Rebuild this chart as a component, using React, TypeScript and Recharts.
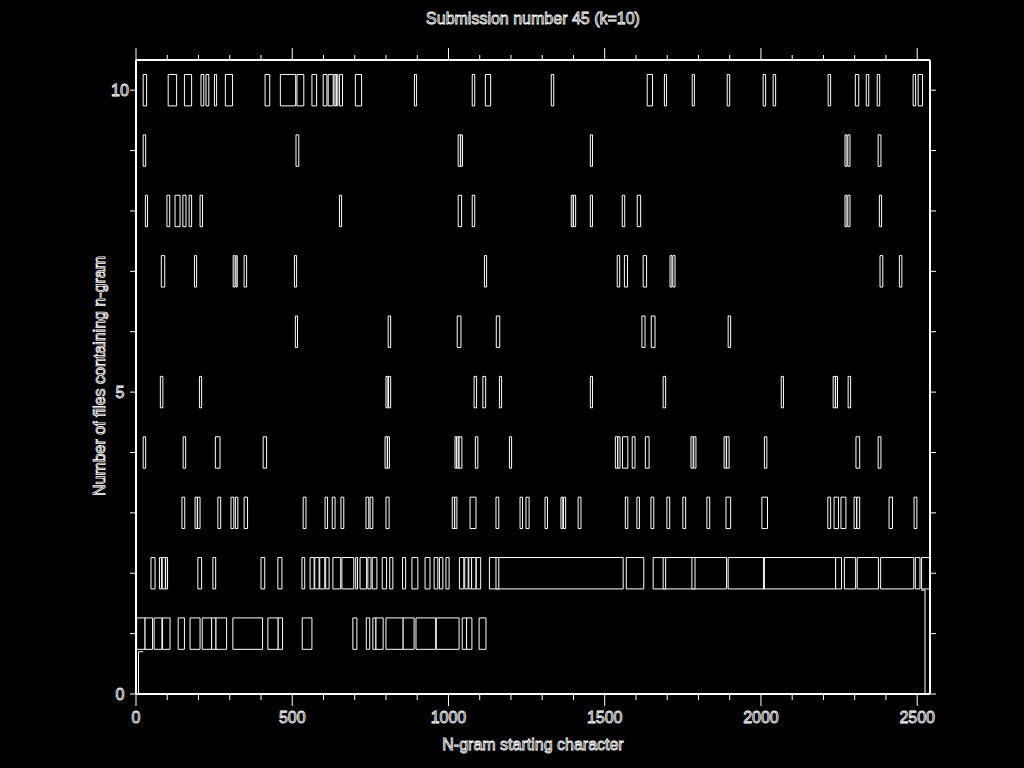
import { ComposedChart, XAxis, YAxis, ReferenceArea, ReferenceLine } from 'recharts'

// bars per row: [start, end] in characters
const row1: [number, number][] = [
  [2, 29], [29, 53], [58, 83], [85, 109], [135, 155], [173, 205], [212, 242], [242, 256],
  [256, 290], [310, 405], [422, 455], [455, 469], [532, 563], [694, 707], [737, 748],
  [758, 768], [768, 791], [800, 855], [855, 890], [896, 959], [961, 1034], [1044, 1058],
  [1058, 1075], [1098, 1120],
]
const row2: [number, number][] = [
  [48, 61], [75, 82], [84, 94], [95, 101], [198, 210], [246, 255], [400, 412], [454, 467],
  [531, 540], [557, 570], [572, 586], [588, 604], [607, 618], [630, 655], [659, 697],
  [703, 709], [717, 738], [742, 752], [756, 771], [788, 802], [812, 822], [853, 863],
  [883, 902], [925, 941], [954, 966], [971, 982], [992, 1002], [1035, 1049], [1052, 1063],
  [1065, 1074], [1074, 1088], [1089, 1103], [1131, 1559], [1569, 1625], [1655, 1890],
  [1895, 2239], [2239, 2258], [2267, 2303], [2308, 2376], [2383, 2489], [2494, 2509],
  [2514, 2541], [1152, 1161], [1687, 1695], [1779, 1789], [2008, 2011],
]
const row3: [number, number][] = [
  [147, 156], [189, 196], [197, 205], [262, 271], [304, 313], [318, 326], [346, 357],
  [535, 544], [605, 613], [628, 637], [656, 665], [736, 745], [749, 758], [800, 810],
  [1012, 1019], [1020, 1027], [1069, 1088], [1152, 1161], [1229, 1237], [1248, 1258],
  [1309, 1317], [1360, 1366], [1368, 1375], [1415, 1424], [1566, 1574], [1603, 1611],
  [1648, 1657], [1699, 1708], [1750, 1759], [1827, 1836], [1888, 1903], [2003, 2021],
  [2214, 2223], [2234, 2248], [2256, 2272], [2298, 2306], [2307, 2316], [2410, 2421],
  [2490, 2499],
]
const row4: [number, number][] = [
  [23, 31], [151, 159], [254, 269], [407, 418], [797, 804], [805, 811], [1021, 1026],
  [1027, 1033], [1034, 1043], [1086, 1094], [1195, 1202], [1534, 1541], [1542, 1549],
  [1557, 1574], [1588, 1597], [1630, 1642], [1776, 1783], [1785, 1792], [1882, 1889],
  [1890, 1898], [2011, 2019], [2304, 2316], [2375, 2384],
]
const row5: [number, number][] = [
  [78, 86], [203, 210], [800, 806], [808, 815], [1082, 1090], [1110, 1119], [1163, 1170],
  [1454, 1461], [1687, 1695], [2065, 2072], [2231, 2238], [2239, 2245], [2279, 2287],
]
const row6: [number, number][] = [
  [510, 517], [807, 815], [1028, 1040], [1153, 1164], [1619, 1629], [1649, 1661], [1895, 1903],
]
const row7: [number, number][] = [
  [81, 92], [187, 194], [311, 317], [320, 324], [346, 354], [507, 514], [1115, 1122],
  [1540, 1548], [1563, 1573], [1623, 1634], [1709, 1715], [1718, 1725], [2381, 2390],
  [2443, 2451],
]
const row8: [number, number][] = [
  [30, 37], [99, 108], [125, 141], [150, 160], [170, 178], [205, 213], [651, 658],
  [1031, 1042], [1076, 1084], [1393, 1399], [1400, 1407], [1454, 1461], [1556, 1564],
  [1604, 1615], [2269, 2275], [2278, 2285], [2379, 2386],
]
const row9: [number, number][] = [
  [23, 31], [512, 521], [1031, 1038], [1039, 1045], [1454, 1461], [2269, 2275],
  [2278, 2285], [2375, 2384],
]
const row10: [number, number][] = [
  [23, 34], [103, 130], [155, 178], [208, 217], [224, 233], [251, 258], [286, 309],
  [413, 428], [462, 511], [515, 537], [563, 578], [599, 611], [615, 631], [634, 640],
  [642, 646], [651, 661], [702, 722], [891, 898], [1076, 1084], [1118, 1135], [1329, 1337],
  [1636, 1653], [1691, 1698], [1780, 1787], [1892, 1900], [2007, 2015], [2039, 2047],
  [2215, 2223], [2302, 2313], [2337, 2345], [2372, 2380], [2487, 2495], [2503, 2517],
]

const rows = [row1, row2, row3, row4, row5, row6, row7, row8, row9, row10]

// stray edge lines near the bottom corners: [x1, y1, x2, y2]
const edgeLines: [number, number, number, number][] = [
  [8, 0.7, 8, 0],
  [8, 0.7, 23, 0.7],
  [2525, 1.72, 2525, 0],
  [2512, 1.72, 2525, 1.72],
]

const xTicks = [
  0, 100, 200, 300, 400, 500, 600, 700, 800, 900, 1000, 1100, 1200, 1300, 1400, 1500,
  1600, 1700, 1800, 1900, 2000, 2100, 2200, 2300, 2400, 2500,
]
const xLabels = [0, 500, 1000, 1500, 2000, 2500]
const yTicks = [0, 1, 2, 3, 4, 5, 6, 7, 8, 9, 10]
const yLabels = [0, 5, 10]

const FONT = '"Liberation Sans", Arial, sans-serif'
const textStyle = { fontFamily: FONT, fontSize: 16 }

function BottomTick({ x, y, payload }: any) {
  const major = xLabels.includes(payload.value)
  return (
    <g>
      <line x1={x} x2={x} y1={y} y2={y + (major ? 12 : 6)} stroke="#fff" />
      {major && (
        <text x={x} y={y + 29} textAnchor="middle" fill="#000" stroke="#fff" strokeWidth={0.8} style={textStyle}>
          {payload.value}
        </text>
      )}
    </g>
  )
}

function TopTick({ x, y, payload }: any) {
  const major = xLabels.includes(payload.value)
  return <line x1={x} x2={x} y1={y} y2={y - (major ? 12 : 5)} stroke="#fff" />
}

function LeftTick({ x, y, payload }: any) {
  const major = yLabels.includes(payload.value)
  return (
    <g>
      <line x1={x} x2={x - 6} y1={y} y2={y} stroke="#fff" />
      {major && (
        <text x={x - 16} y={y} dy="0.36em" textAnchor="middle" fill="#000" stroke="#fff" strokeWidth={0.8} style={textStyle}>
          {payload.value}
        </text>
      )}
    </g>
  )
}

function RightTick({ x, y }: any) {
  return <line x1={x} x2={x + 6} y1={y} y2={y} stroke="#fff" />
}

const outlined = {
  position: 'absolute' as const,
  fontFamily: FONT,
  fontSize: 16,
  color: '#000',
  WebkitTextStroke: '0.8px #fff',
  whiteSpace: 'nowrap' as const,
}

const axisStroke = { stroke: '#fff', strokeWidth: 2 }

export default function App() {
  return (
    <div style={{ position: 'fixed', left: 0, top: 0, width: 1024, height: 768, background: '#000' }}>
      <ComposedChart width={1024} height={768} margin={{ top: 30, right: 64, left: 96, bottom: 34 }}>
        <XAxis
          xAxisId="bottom"
          type="number"
          dataKey="x"
          domain={[0, 2541]}
          allowDataOverflow
          ticks={xTicks}
          interval={0}
          height={40}
          tickSize={0}
          tickMargin={0}
          tickLine={false}
          axisLine={axisStroke}
          tick={<BottomTick />}
        />
        <XAxis
          xAxisId="top"
          orientation="top"
          type="number"
          dataKey="x"
          domain={[0, 2541]}
          allowDataOverflow
          ticks={xTicks}
          interval={0}
          height={30}
          tickSize={0}
          tickMargin={0}
          tickLine={false}
          axisLine={axisStroke}
          tick={<TopTick />}
        />
        <YAxis
          yAxisId="left"
          type="number"
          domain={[0, 10.5]}
          allowDataOverflow
          ticks={yTicks}
          interval={0}
          width={40}
          tickSize={0}
          tickMargin={0}
          tickLine={false}
          axisLine={axisStroke}
          tick={<LeftTick />}
        />
        <YAxis
          yAxisId="right"
          orientation="right"
          type="number"
          domain={[0, 10.5]}
          allowDataOverflow
          ticks={yTicks}
          interval={0}
          width={30}
          tickSize={0}
          tickMargin={0}
          tickLine={false}
          axisLine={axisStroke}
          tick={<RightTick />}
        />
        {rows.map((row, i) =>
          row.map(([s, e], j) => (
            <ReferenceArea
              key={`${i}-${j}`}
              xAxisId="bottom"
              yAxisId="left"
              x1={s}
              x2={e}
              y1={i + 1 - 0.26}
              y2={i + 1 + 0.26}
              fill="#000"
              fillOpacity={1}
              stroke="#fff"
              strokeWidth={1}
              ifOverflow="visible"
            />
          ))
        )}
        {edgeLines.map(([x1, y1, x2, y2], k) => (
          <ReferenceLine
            key={`edge-${k}`}
            xAxisId="bottom"
            yAxisId="left"
            segment={[{ x: x1, y: y1 }, { x: x2, y: y2 }]}
            stroke="#fff"
            strokeWidth={1}
            ifOverflow="visible"
          />
        ))}
      </ComposedChart>
      <div style={{ ...outlined, left: 533, top: 10, transform: 'translateX(-50%)' }}>Submission number 45 (k=10)</div>
      <div style={{ ...outlined, left: 533, top: 736, transform: 'translateX(-50%)' }}>N-gram starting character</div>
      <div style={{ ...outlined, left: 100, top: 376, transform: 'translate(-50%, -50%) rotate(-90deg)' }}>
        Number of files containing n-gram
      </div>
    </div>
  )
}
